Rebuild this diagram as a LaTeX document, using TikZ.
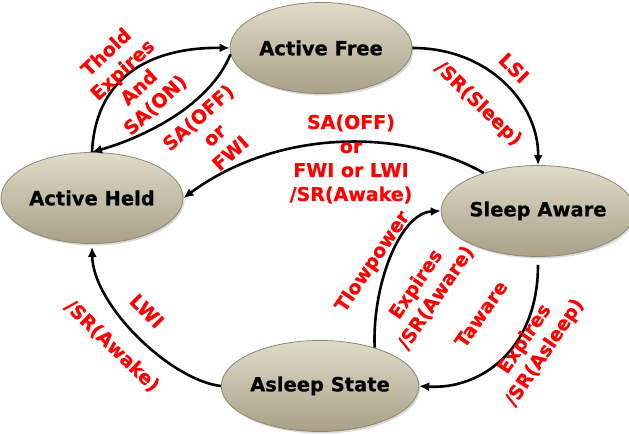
\documentclass[tikz,border=0pt]{standalone}
\usepackage{fontspec}
\setmainfont{DejaVu Sans}[BoldFeatures={FakeBold=0.6}]
\usetikzlibrary{shapes.geometric,arrows.meta,shadows}
\definecolor{statetop}{rgb}{0.88, 0.86, 0.79}
\definecolor{statebottom}{rgb}{0.66, 0.63, 0.53}
\definecolor{stateedge}{rgb}{0.56, 0.53, 0.44}
\definecolor{labelred}{rgb}{1.0, 0.0, 0.0}

\begin{document}
\begin{tikzpicture}[x=1pt,y=1pt,
        state/.style={ellipse, minimum width=182pt, minimum height=91pt, inner sep=0pt,
            top color=statetop, bottom color=statebottom, draw=stateedge, line width=0.8pt,
            drop shadow={opacity=0.3, shadow xshift=1.5pt, shadow yshift=-2pt},
            font=\fontsize{19.5}{23}\selectfont\bfseries},
        trans/.style={line width=2.6pt, -{Latex[length=10pt,width=9pt]}},
        cond/.style={text=labelred, align=center, inner sep=0pt,
            font=\fontsize{19}{24}\selectfont\bfseries}
    ]
    \useasboundingbox (0,0) rectangle (629,435);
    \node[state] (free) at (321,387) {Active Free};
    \node[state] (held) at (92,237) {Active Held};
    \node[state, minimum width=180pt] (aware) at (538,224) {Sleep Aware};
    \node[state, minimum width=184pt] (asleep) at (320,49) {Asleep State};

    \draw[trans] (held.north) .. controls (96,365) and (160,388) .. (free.west);
    \draw[trans] (free.184) .. controls (210,330) and (145,298) .. (held.north);
    \draw[trans] (free.east) .. controls (490,387) and (539,330) .. (aware.north);
    \draw[trans] (aware.145) .. controls (410,304) and (283,310) .. (held.east);
    \draw[trans, shorten >=3pt] (asleep.west) .. controls (170,55) and (93,130) .. (held.south);
    \draw[trans] (asleep.35) .. controls (372,150) and (400,222) .. (aware.west);
    \draw[trans, shorten <=8pt] (aware.south) .. controls (538,85) and (480,45) .. (asleep.east);

    \node[cond, rotate=43] (tholdlbl) at (131,356) {Thold\\Expires\\And\\SA(ON)};
    \node[cond, rotate=42] (offlbl) at (214,300) {SA(OFF)\\or\\FWI};
    \node[cond, rotate=-45] (lsilbl) at (514,367) {LSI};
    \node[cond, rotate=-44] (sleeplbl) at (478,331) {/SR(Sleep)};
    \node[cond] (wakelbl) at (351,276) {SA(OFF)\\or\\FWI or LWI\\/SR(Awake)};
    \node[cond, rotate=-45] (lwilbl) at (147,124) {LWI};
    \node[cond, rotate=-44] (awakelbl) at (112,89) {/SR(Awake)};
    \node[cond, rotate=56] (lowlbl) at (373,173) {Tlowpower};
    \node[cond, rotate=56] (awarelbl) at (426,144) {Expires\\/SR(Aware)};
    \node[cond, rotate=55] (tawarelbl) at (481,121) {Taware};
    \node[cond, rotate=56] (asleeplbl) at (535,89) {Expires\\/SR(Asleep)};
\end{tikzpicture}
\end{document}
